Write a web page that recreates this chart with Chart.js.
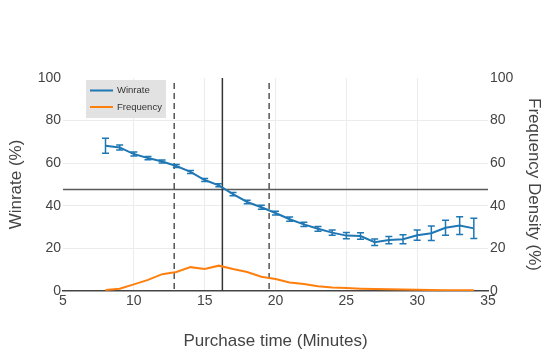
<!DOCTYPE html>
<html>
<head>
<meta charset="utf-8">
<script src="https://cdn.jsdelivr.net/npm/chart.js@4.4.1/dist/chart.umd.min.js"></script>
<style>
  html, body { margin: 0; padding: 0; background: #fff; }
  #wrap { width: 550px; height: 354px; position: relative; }
</style>
</head>
<body>
<div id="wrap"><canvas id="c"></canvas></div>
<script>
// ---- data ----
const minutes = [8, 9, 10, 11, 12, 13, 14, 15, 16, 17, 18, 19, 20, 21, 22, 23, 24, 25, 26, 27, 28, 29, 30, 31, 32, 33, 34];
const winrate = [68.2, 67.4, 64.3, 62.4, 60.8, 58.7, 55.9, 52.1, 49.6, 45.5, 41.8, 39.3, 36.6, 33.7, 31.3, 29.2, 27.4, 26.0, 25.8, 22.9, 23.9, 24.3, 26.2, 27.1, 29.7, 30.7, 29.4];
const winrateErr = [3.5, 1.2, 0.9, 0.8, 0.7, 0.7, 0.7, 0.7, 0.7, 0.8, 0.8, 0.9, 0.9, 1.0, 1.0, 1.1, 1.2, 1.5, 1.5, 1.5, 1.7, 2.1, 2.4, 3.4, 3.5, 4.2, 4.7];
const frequency = [0.5, 1.1, 3.1, 5.2, 7.9, 8.9, 11.2, 10.3, 11.9, 10.3, 8.9, 6.7, 5.6, 4.0, 3.3, 2.2, 1.7, 1.4, 1.1, 0.9, 0.8, 0.7, 0.6, 0.5, 0.4, 0.3, 0.3];
const meanWinrate = [47.7];
const meanTime = [16.25];
const spreadTimes = [12.85, 19.55];
const xTicks = [5, 10, 15, 20, 25, 30, 35];
const yTicks = [0, 20, 40, 60, 80, 100];
const seriesNames = ['Winrate', 'Frequency'];
const seriesColors = ['#1f77b4', '#ff7f0e'];

const FONT = "'Liberation Sans', Arial, sans-serif";
const TXT = '#444';

const refLines = {
  id: 'refLines',
  beforeDatasetsDraw(chart) {
    const {ctx, chartArea: a, scales: {x, y}} = chart;
    ctx.save();
    // horizontal mean winrate line
    ctx.strokeStyle = '#5a5a5a';
    ctx.lineWidth = 1.5;
    meanWinrate.forEach(v => {
      const py = y.getPixelForValue(v);
      ctx.beginPath(); ctx.moveTo(a.left, py); ctx.lineTo(a.right, py); ctx.stroke();
    });
    // vertical solid line
    ctx.strokeStyle = '#333';
    meanTime.forEach(v => {
      const px = x.getPixelForValue(v);
      ctx.beginPath(); ctx.moveTo(px, a.top); ctx.lineTo(px, a.bottom); ctx.stroke();
    });
    // dashed lines
    ctx.strokeStyle = '#555';
    ctx.setLineDash([6, 4]);
    spreadTimes.forEach(v => {
      const px = x.getPixelForValue(v);
      ctx.beginPath(); ctx.moveTo(px, a.top + 5); ctx.lineTo(px, a.bottom); ctx.stroke();
    });
    ctx.restore();
  },
  afterDatasetsDraw(chart) {
    const {ctx, scales: {x, y}} = chart;
    ctx.save();
    ctx.strokeStyle = seriesColors[0];
    ctx.lineWidth = 1.5;
    minutes.forEach((t, i) => {
      const px = x.getPixelForValue(t);
      const lo = y.getPixelForValue(winrate[i] - winrateErr[i]);
      const hi = y.getPixelForValue(winrate[i] + winrateErr[i]);
      const w = 3.5;
      ctx.beginPath();
      ctx.moveTo(px, lo); ctx.lineTo(px, hi);
      ctx.moveTo(px - w, lo); ctx.lineTo(px + w, lo);
      ctx.moveTo(px - w, hi); ctx.lineTo(px + w, hi);
      ctx.stroke();
    });
    ctx.restore();
  },
  afterDraw(chart) {
    const {ctx} = chart;
    ctx.save();
    const bx = 86, by = 80, bw = 80, bh = 38;
    ctx.fillStyle = '#e2e2e2';
    ctx.fillRect(bx, by, bw, bh);
    ctx.font = '9.5px ' + FONT;
    ctx.textBaseline = 'middle';
    ctx.textAlign = 'left';
    seriesNames.forEach((n, i) => {
      const yy = by + 10.5 + i * 16.5;
      ctx.strokeStyle = seriesColors[i];
      ctx.lineWidth = 2;
      ctx.beginPath(); ctx.moveTo(bx + 4, yy); ctx.lineTo(bx + 27, yy); ctx.stroke();
      ctx.fillStyle = '#333';
      ctx.fillText(n, bx + 31, yy);
    });
    ctx.restore();
  }
};

new Chart(document.getElementById('c'), {
  type: 'line',
  data: {
    datasets: [
      {
        label: seriesNames[0],
        data: minutes.map((t, i) => ({x: t, y: winrate[i]})),
        borderColor: seriesColors[0],
        backgroundColor: seriesColors[0],
        borderWidth: 2,
        pointRadius: 0,
        yAxisID: 'y',
        order: 1
      },
      {
        label: seriesNames[1],
        data: minutes.map((t, i) => ({x: t, y: frequency[i]})),
        borderColor: seriesColors[1],
        backgroundColor: seriesColors[1],
        borderWidth: 2,
        pointRadius: 0,
        yAxisID: 'y2',
        order: 2
      }
    ]
  },
  options: {
    responsive: true,
    maintainAspectRatio: false,
    animation: false,
    layout: { padding: { top: 78, left: 0, right: 0, bottom: 0 } },
    plugins: { legend: { display: false }, tooltip: { enabled: false } },
    scales: {
      x: {
        type: 'linear',
        min: 5, max: 35,
        afterBuildTicks: s => { s.ticks = xTicks.map(v => ({value: v})); },
        afterFit: s => { s.height = 63; },
        ticks: { font: { family: FONT, size: 14 }, color: TXT, padding: 2, maxRotation: 0 },
        grid: {
          drawTicks: false,
          color: c => (c.tick && (c.tick.value === 5 || c.tick.value === 35)) ? 'rgba(0,0,0,0)' : '#ececec',
          lineWidth: 1
        },
        border: { display: true, color: '#444', width: 1.5 },
        title: { display: true, text: 'Purchase time (Minutes)', color: TXT, font: { family: FONT, size: 17 }, padding: { top: 0, bottom: 2 } }
      },
      y: {
        position: 'left',
        min: 0, max: 100,
        afterBuildTicks: s => { s.ticks = yTicks.map(v => ({value: v})); },
        afterFit: s => { s.width = 63; },
        ticks: { font: { family: FONT, size: 14 }, color: TXT, padding: 2 },
        grid: {
          drawTicks: false,
          color: c => (c.tick && (c.tick.value === 0 || c.tick.value === 100)) ? 'rgba(0,0,0,0)' : '#ececec'
        },
        border: { display: false },
        title: { display: true, text: 'Winrate (%)', color: TXT, font: { family: FONT, size: 17 }, padding: { top: 6, bottom: 0 } }
      },
      y2: {
        position: 'right',
        min: 0, max: 100,
        afterBuildTicks: s => { s.ticks = yTicks.map(v => ({value: v})); },
        afterFit: s => { s.width = 62; },
        ticks: { font: { family: FONT, size: 14 }, color: TXT, padding: 2 },
        grid: { display: false, drawTicks: false },
        border: { display: false },
        title: { display: true, text: 'Frequency Density (%)', color: TXT, font: { family: FONT, size: 17 }, padding: { top: 6, bottom: 0 } }
      }
    }
  },
  plugins: [refLines]
});
</script>
</body>
</html>
